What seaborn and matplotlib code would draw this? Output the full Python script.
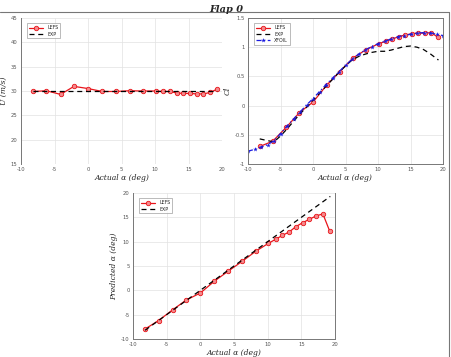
import matplotlib
matplotlib.use("Agg")
import matplotlib.pyplot as plt
import pandas as pd
import seaborn as sns
from matplotlib.lines import Line2D

# angle of attack samples (deg)
ALPHA = [-8.2, -6.2, -4.1, -2.1, 0.0, 2.1, 4.1, 6.2, 8.2, 10.1, 11.2, 12.2,
         13.2, 14.2, 15.2, 16.2, 17.2, 18.2, 19.2]

# flow speed
U_LEFS = [29.9, 30.05, 29.3, 30.95, 30.5, 29.9, 29.9, 30.05, 30.0, 30.0, 29.9,
          29.9, 29.6, 29.5, 29.5, 29.4, 29.4, 29.7, 30.35]
U_EXP_X = [-8.2, 19.2]
U_EXP = [30.0, 30.0]

# lift coefficient
CL_LEFS = [-0.70, -0.61, -0.37, -0.12, 0.06, 0.35, 0.58, 0.82, 0.96, 1.06, 1.10,
           1.14, 1.18, 1.21, 1.23, 1.24, 1.24, 1.25, 1.17]
CL_EXP_X = [-8.2, -7, -6, -5, -4, -3, -2, -1, 0, 1, 2, 3, 4, 5, 6, 7, 8, 9, 10,
            11, 12, 13, 14, 15, 16, 17, 18, 19.3]
CL_EXP = [-0.57, -0.60, -0.62, -0.52, -0.40, -0.27, -0.14, -0.03, 0.09, 0.21,
          0.33, 0.45, 0.57, 0.68, 0.78, 0.84, 0.88, 0.91, 0.93, 0.93, 0.95, 0.98,
          1.01, 1.02, 1.00, 0.96, 0.89, 0.78]
CL_XFOIL_X = list(range(-10, 21))
CL_XFOIL = [-0.78, -0.75, -0.71, -0.67, -0.60, -0.48, -0.35, -0.23, -0.11, 0.01,
            0.12, 0.24, 0.36, 0.47, 0.58, 0.69, 0.79, 0.88, 0.95, 1.01, 1.06,
            1.10, 1.14, 1.18, 1.20, 1.22, 1.24, 1.25, 1.25, 1.22, 1.20]

# predicted angle
PRED_LEFS = [-7.95, -6.2, -4.0, -2.0, -0.55, 1.9, 3.9, 5.95, 8.0, 9.65, 10.5,
             11.3, 12.0, 13.1, 13.9, 14.6, 15.3, 15.7, 12.2]
PRED_EXP_X = [-8.2, 19.3]
PRED_EXP = [-8.2, 19.3]

sns.set_theme(style="whitegrid")
plt.rcParams["font.family"] = ["DejaVu Sans"]
plt.rcParams["axes.unicode_minus"] = False

RED = "#e8141a"
LABEL_FONT = dict(family="DejaVu Serif", style="italic", fontsize=5.5)


def style_axes(ax, xlim, ylim, yticks, spines):
    ax.set_xlim(*xlim)
    ax.set_ylim(*ylim)
    ax.set_xticks(range(-10, 21, 5))
    ax.set_yticks(yticks)
    ax.tick_params(axis="both", labelsize=3.8, colors="#555555", length=1.5,
                   pad=1, width=0.4)
    ax.grid(color="#e2e2e2", linewidth=0.5)
    ax.set_facecolor("white")
    for name, sp in ax.spines.items():
        sp.set_visible(name in spines)
        sp.set_color("#777777")
        sp.set_linewidth(0.7)


def draw_lefs(ax, x, y):
    df = pd.DataFrame({"x": x, "y": y})
    sns.lineplot(data=df, x="x", y="y", ax=ax, color=RED, linewidth=0.9,
                 marker="o", markersize=3.2, markerfacecolor="#f48a8c",
                 markeredgecolor=RED, markeredgewidth=0.6, label="LEFS",
                 sort=False)


def draw_exp(ax, x, y):
    df = pd.DataFrame({"x": x, "y": y})
    sns.lineplot(data=df, x="x", y="y", ax=ax, color="black", linewidth=0.9,
                 linestyle=(0, (4, 3)), label="EXP", sort=False)


def legend(ax):
    leg = ax.legend(loc="upper left", fontsize=3.4, frameon=True,
                    handlelength=3, borderpad=0.4, labelspacing=0.3,
                    bbox_to_anchor=(0.02, 0.98), fancybox=False)
    leg.get_frame().set_edgecolor("#888888")
    leg.get_frame().set_linewidth(0.5)


fig = plt.figure(figsize=(4.52, 3.57), dpi=100)
ax1 = fig.add_axes([0.0465, 0.5406, 0.445, 0.409])
ax2 = fig.add_axes([0.5487, 0.5406, 0.4314, 0.409])
ax3 = fig.add_axes([0.2942, 0.0504, 0.447, 0.409])

# flow speed
draw_lefs(ax1, ALPHA, U_LEFS)
draw_exp(ax1, U_EXP_X, U_EXP)
style_axes(ax1, (-10, 20), (15, 45), range(15, 46, 5), ["left"])
ax1.set_xlabel("Actual α (deg)", labelpad=1, **LABEL_FONT)
ax1.set_ylabel("U (m/s)", labelpad=2, **LABEL_FONT)
legend(ax1)

# lift coefficient
draw_lefs(ax2, ALPHA, CL_LEFS)
draw_exp(ax2, CL_EXP_X, CL_EXP)
df_x = pd.DataFrame({"x": CL_XFOIL_X, "y": CL_XFOIL})
sns.lineplot(data=df_x, x="x", y="y", ax=ax2, color="#1a1adf", linewidth=0.9,
             linestyle=(0, (4, 2, 1, 2)), marker="*", markersize=3.5,
             markeredgewidth=0, label="XFOIL", sort=False)
style_axes(ax2, (-10, 20), (-1, 1.5), [-1, -0.5, 0, 0.5, 1, 1.5],
           ["left", "bottom", "right", "top"])
ax2.set_yticklabels(["-1", "-0.5", "0", "0.5", "1", "1.5"])
ax2.set_xlabel("Actual α (deg)", labelpad=1, **LABEL_FONT)
ax2.set_ylabel("Cl", labelpad=2, **LABEL_FONT)
legend(ax2)

# predicted angle
draw_lefs(ax3, ALPHA, PRED_LEFS)
draw_exp(ax3, PRED_EXP_X, PRED_EXP)
style_axes(ax3, (-10, 20), (-10, 20), range(-10, 21, 5),
           ["left", "bottom", "right"])
ax3.set_xlabel("Actual α (deg)", labelpad=1, **LABEL_FONT)
ax3.set_ylabel("Predicted α (deg)", labelpad=2, **LABEL_FONT)
legend(ax3)

fig.text(0.5, 0.985, "Flap 0", ha="center", va="top", family="DejaVu Serif",
         style="italic", weight="bold", fontsize=7)
fig.add_artist(Line2D([0.0, 0.994], [0.966, 0.966], color="#777777", lw=0.8))
fig.add_artist(Line2D([0.994, 0.994], [0.0, 0.966], color="#777777", lw=0.8))

fig.savefig("out.png", dpi=100)
